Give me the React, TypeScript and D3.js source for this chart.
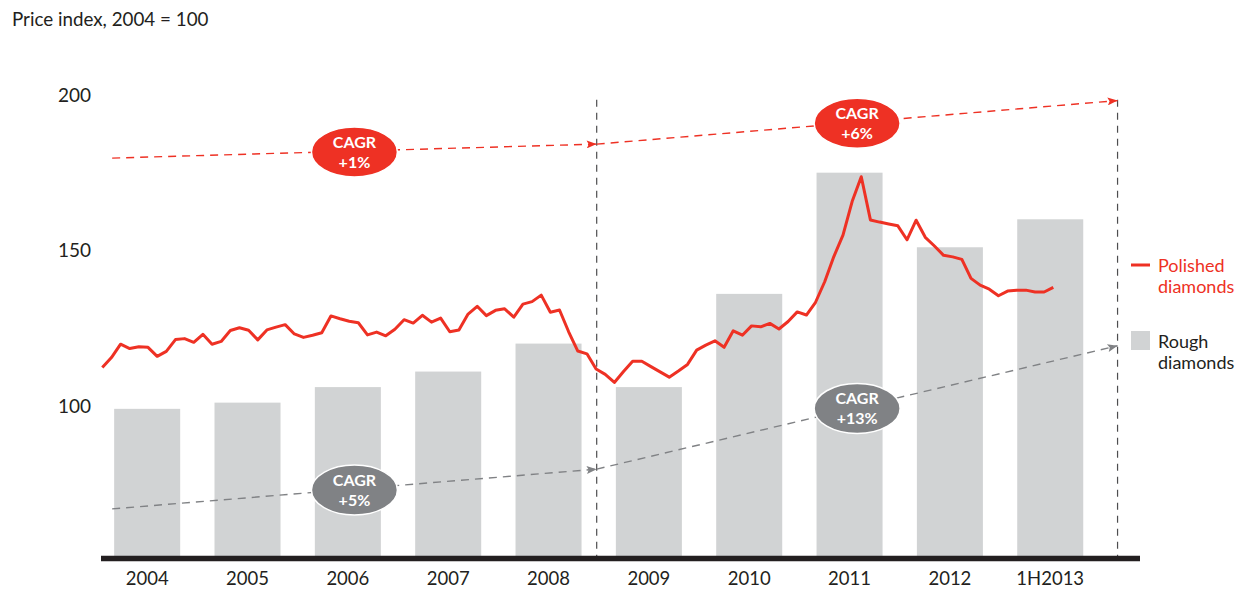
import React, { useRef, useEffect } from "react";
import * as d3 from "d3";

const years = ["2004", "2005", "2006", "2007", "2008", "2009", "2010", "2011", "2012", "1H2013"];
const roughIndex = [99, 101, 106, 111, 120, 106, 136, 175, 151, 160];

// polished diamonds price index, read roughly monthly from the picture
const polishedIndex = [
  112.3, 115.5, 119.8, 118.4, 119.0, 118.8, 115.9, 117.5, 121.3, 121.6,
  120.4, 123.0, 119.8, 120.7, 124.2, 125.1, 124.3, 121.2, 124.4, 125.3,
  126.1, 123.1, 122.0, 122.7, 123.5, 128.9, 128.0, 127.2, 126.7, 122.8,
  123.7, 122.5, 124.6, 127.7, 126.6, 129.1, 126.9, 128.2, 123.8, 124.4,
  129.5, 132.0, 129.0, 130.7, 131.2, 128.5, 132.7, 133.5, 135.6, 130.1,
  130.8, 123.8, 117.6, 116.7, 111.8,
  110.1, 107.5, 111.0, 114.3, 114.3, 112.6, 110.9, 109.2, 111.2, 113.3,
  117.9, 119.5, 120.9, 118.8, 124.1, 122.7, 125.7, 125.4, 126.5, 124.7,
  127.1, 130.2, 129.2, 133.3, 139.9, 148.0, 154.9, 165.7, 173.7, 159.8,
  159.1, 158.5, 157.9, 153.4, 159.7, 154.2, 151.4, 148.4, 147.9, 147.1,
  141.0, 138.8, 137.5, 135.4, 136.9, 137.2, 137.2, 136.6, 136.6, 138.1,
];

const yTicks = [100, 150, 200];

// trend arrows: value at start, at the 2008/2009 break, at the end
const polishedTrend = [179.7, 184.2, 198.2];
const roughTrend = [66.8, 79.6, 119.3];
const polishedCagr = ["+1%", "+6%"];
const roughCagr = ["+5%", "+13%"];

const RED = "#ee3124";
const GREY_BAR = "#d1d3d4";
const GREY_DARK = "#808285";
const FONT = "Lato, sans-serif";

function App() {
  const svgRef = useRef<SVGSVGElement>(null);

  useEffect(() => {
    const w = 1246;
    const h = 589;
    const svg = d3.select(svgRef.current).attr("width", w).attr("height", h);
    svg.selectAll("*").remove();

    const x = d3.scaleBand().domain(years).range([97, 1100.4]).paddingInner(0.342).paddingOuter(0.171);
    const y = d3.scaleLinear().domain([51, 200]).range([558, 95]);
    const xi = d3.scaleLinear().domain([0, polishedIndex.length - 1]).range([102.3, 1053.3]);

    const bw = x.bandwidth();
    const step = x.step();
    const xStart = x(years[0])! - 2;
    const xBreak = x("2009")! - (step - bw) / 2 - 2;
    const xEnd = x(years[years.length - 1])! + step;

    // arrow markers
    const defs = svg.append("defs");
    [["arrRed", RED], ["arrGrey", GREY_DARK]].forEach(([id, col]) => {
      defs.append("marker")
        .attr("id", id)
        .attr("viewBox", "0 0 10 8")
        .attr("refX", 10)
        .attr("refY", 4)
        .attr("markerWidth", 11)
        .attr("markerHeight", 8)
        .attr("markerUnits", "userSpaceOnUse")
        .attr("orient", "auto")
        .append("path")
        .attr("d", "M0,0L10,4L0,8L2,4Z")
        .attr("fill", col);
    });

    // title
    svg.append("text")
      .attr("x", 12).attr("y", 26)
      .attr("font-family", FONT).attr("font-size", 18.8).attr("fill", "#231f20")
      .text("Price index, 2004 = 100");

    // y tick labels
    svg.selectAll(".ytick")
      .data(yTicks)
      .join("text")
      .attr("x", 91)
      .attr("y", d => y(d))
      .attr("dy", "0.36em")
      .attr("text-anchor", "end")
      .attr("font-family", FONT).attr("font-size", 19).attr("fill", "#231f20")
      .text(d => d);

    // bars
    svg.selectAll(".bar")
      .data(roughIndex)
      .join("rect")
      .attr("x", (d, i) => x(years[i])!)
      .attr("y", d => y(d))
      .attr("width", bw)
      .attr("height", d => y(51) - y(d))
      .attr("fill", GREY_BAR);

    // vertical dashed dividers
    svg.selectAll(".divider")
      .data([xBreak, xEnd])
      .join("line")
      .attr("x1", d => d).attr("x2", d => d)
      .attr("y1", y(198.5)).attr("y2", y(51))
      .attr("stroke", "#4d4d4f").attr("stroke-width", 1.2)
      .attr("stroke-dasharray", "7,6");

    // trend arrows
    const trend = (vals: number[], col: string, marker: string, labels: string[]) => {
      const xs = [xStart, xBreak, xEnd];
      [0, 1].forEach(k => {
        svg.append("line")
          .attr("x1", xs[k]).attr("y1", y(vals[k]))
          .attr("x2", xs[k + 1]).attr("y2", y(vals[k + 1]))
          .attr("stroke", col).attr("stroke-width", 1.4)
          .attr("stroke-dasharray", "8,6")
          .attr("marker-end", `url(#${marker})`);
      });
      [0, 1].forEach(k => {
        const cx = (xs[k] + xs[k + 1]) / 2;
        const cy = (y(vals[k]) + y(vals[k + 1])) / 2 + 1;
        const g = svg.append("g").attr("transform", `translate(${cx},${cy})`);
        g.append("ellipse")
          .attr("rx", 43).attr("ry", 25)
          .attr("fill", col).attr("stroke", "#fff").attr("stroke-width", 1.5);
        const t = g.append("text")
          .attr("text-anchor", "middle")
          .attr("font-family", FONT).attr("font-weight", 700).attr("font-size", 16).attr("fill", "#fff");
        t.append("tspan").attr("x", 0).attr("y", -4).text("CAGR");
        t.append("tspan").attr("x", 0).attr("y", 15.5).text(labels[k]);
      });
    };
    trend(roughTrend, GREY_DARK, "arrGrey", roughCagr);

    // polished line
    const line = d3.line<number>()
      .x((d, i) => xi(i))
      .y(d => y(d));
    svg.append("path")
      .datum(polishedIndex)
      .attr("d", line)
      .attr("fill", "none")
      .attr("stroke", RED)
      .attr("stroke-width", 3)
      .attr("stroke-linejoin", "round");

    trend(polishedTrend, RED, "arrRed", polishedCagr);

    // x axis
    svg.append("line")
      .attr("x1", 101).attr("x2", 1140)
      .attr("y1", 558.5).attr("y2", 558.5)
      .attr("stroke", "#231f20").attr("stroke-width", 5.5);

    svg.selectAll(".xlab")
      .data(years)
      .join("text")
      .attr("x", d => x(d)! + bw / 2)
      .attr("y", 585)
      .attr("text-anchor", "middle")
      .attr("font-family", FONT).attr("font-size", 18.5).attr("fill", "#231f20")
      .text(d => d);

    // legend
    svg.append("line")
      .attr("x1", 1131).attr("x2", 1150).attr("y1", 265).attr("y2", 265)
      .attr("stroke", RED).attr("stroke-width", 3);
    const lp = svg.append("text").attr("font-family", FONT).attr("font-size", 18).attr("fill", RED);
    lp.append("tspan").attr("x", 1158).attr("y", 272).text("Polished");
    lp.append("tspan").attr("x", 1158).attr("y", 293).text("diamonds");

    svg.append("rect")
      .attr("x", 1131).attr("y", 331).attr("width", 19).attr("height", 19)
      .attr("fill", GREY_BAR);
    const lr = svg.append("text").attr("font-family", FONT).attr("font-size", 18).attr("fill", "#231f20");
    lr.append("tspan").attr("x", 1158).attr("y", 348).text("Rough");
    lr.append("tspan").attr("x", 1158).attr("y", 369).text("diamonds");
  }, []);

  return (
    <div style={{ position: "absolute", left: 0, top: 0 }}>
      <svg ref={svgRef} style={{ display: "block" }}></svg>
    </div>
  );
}

export default App;
